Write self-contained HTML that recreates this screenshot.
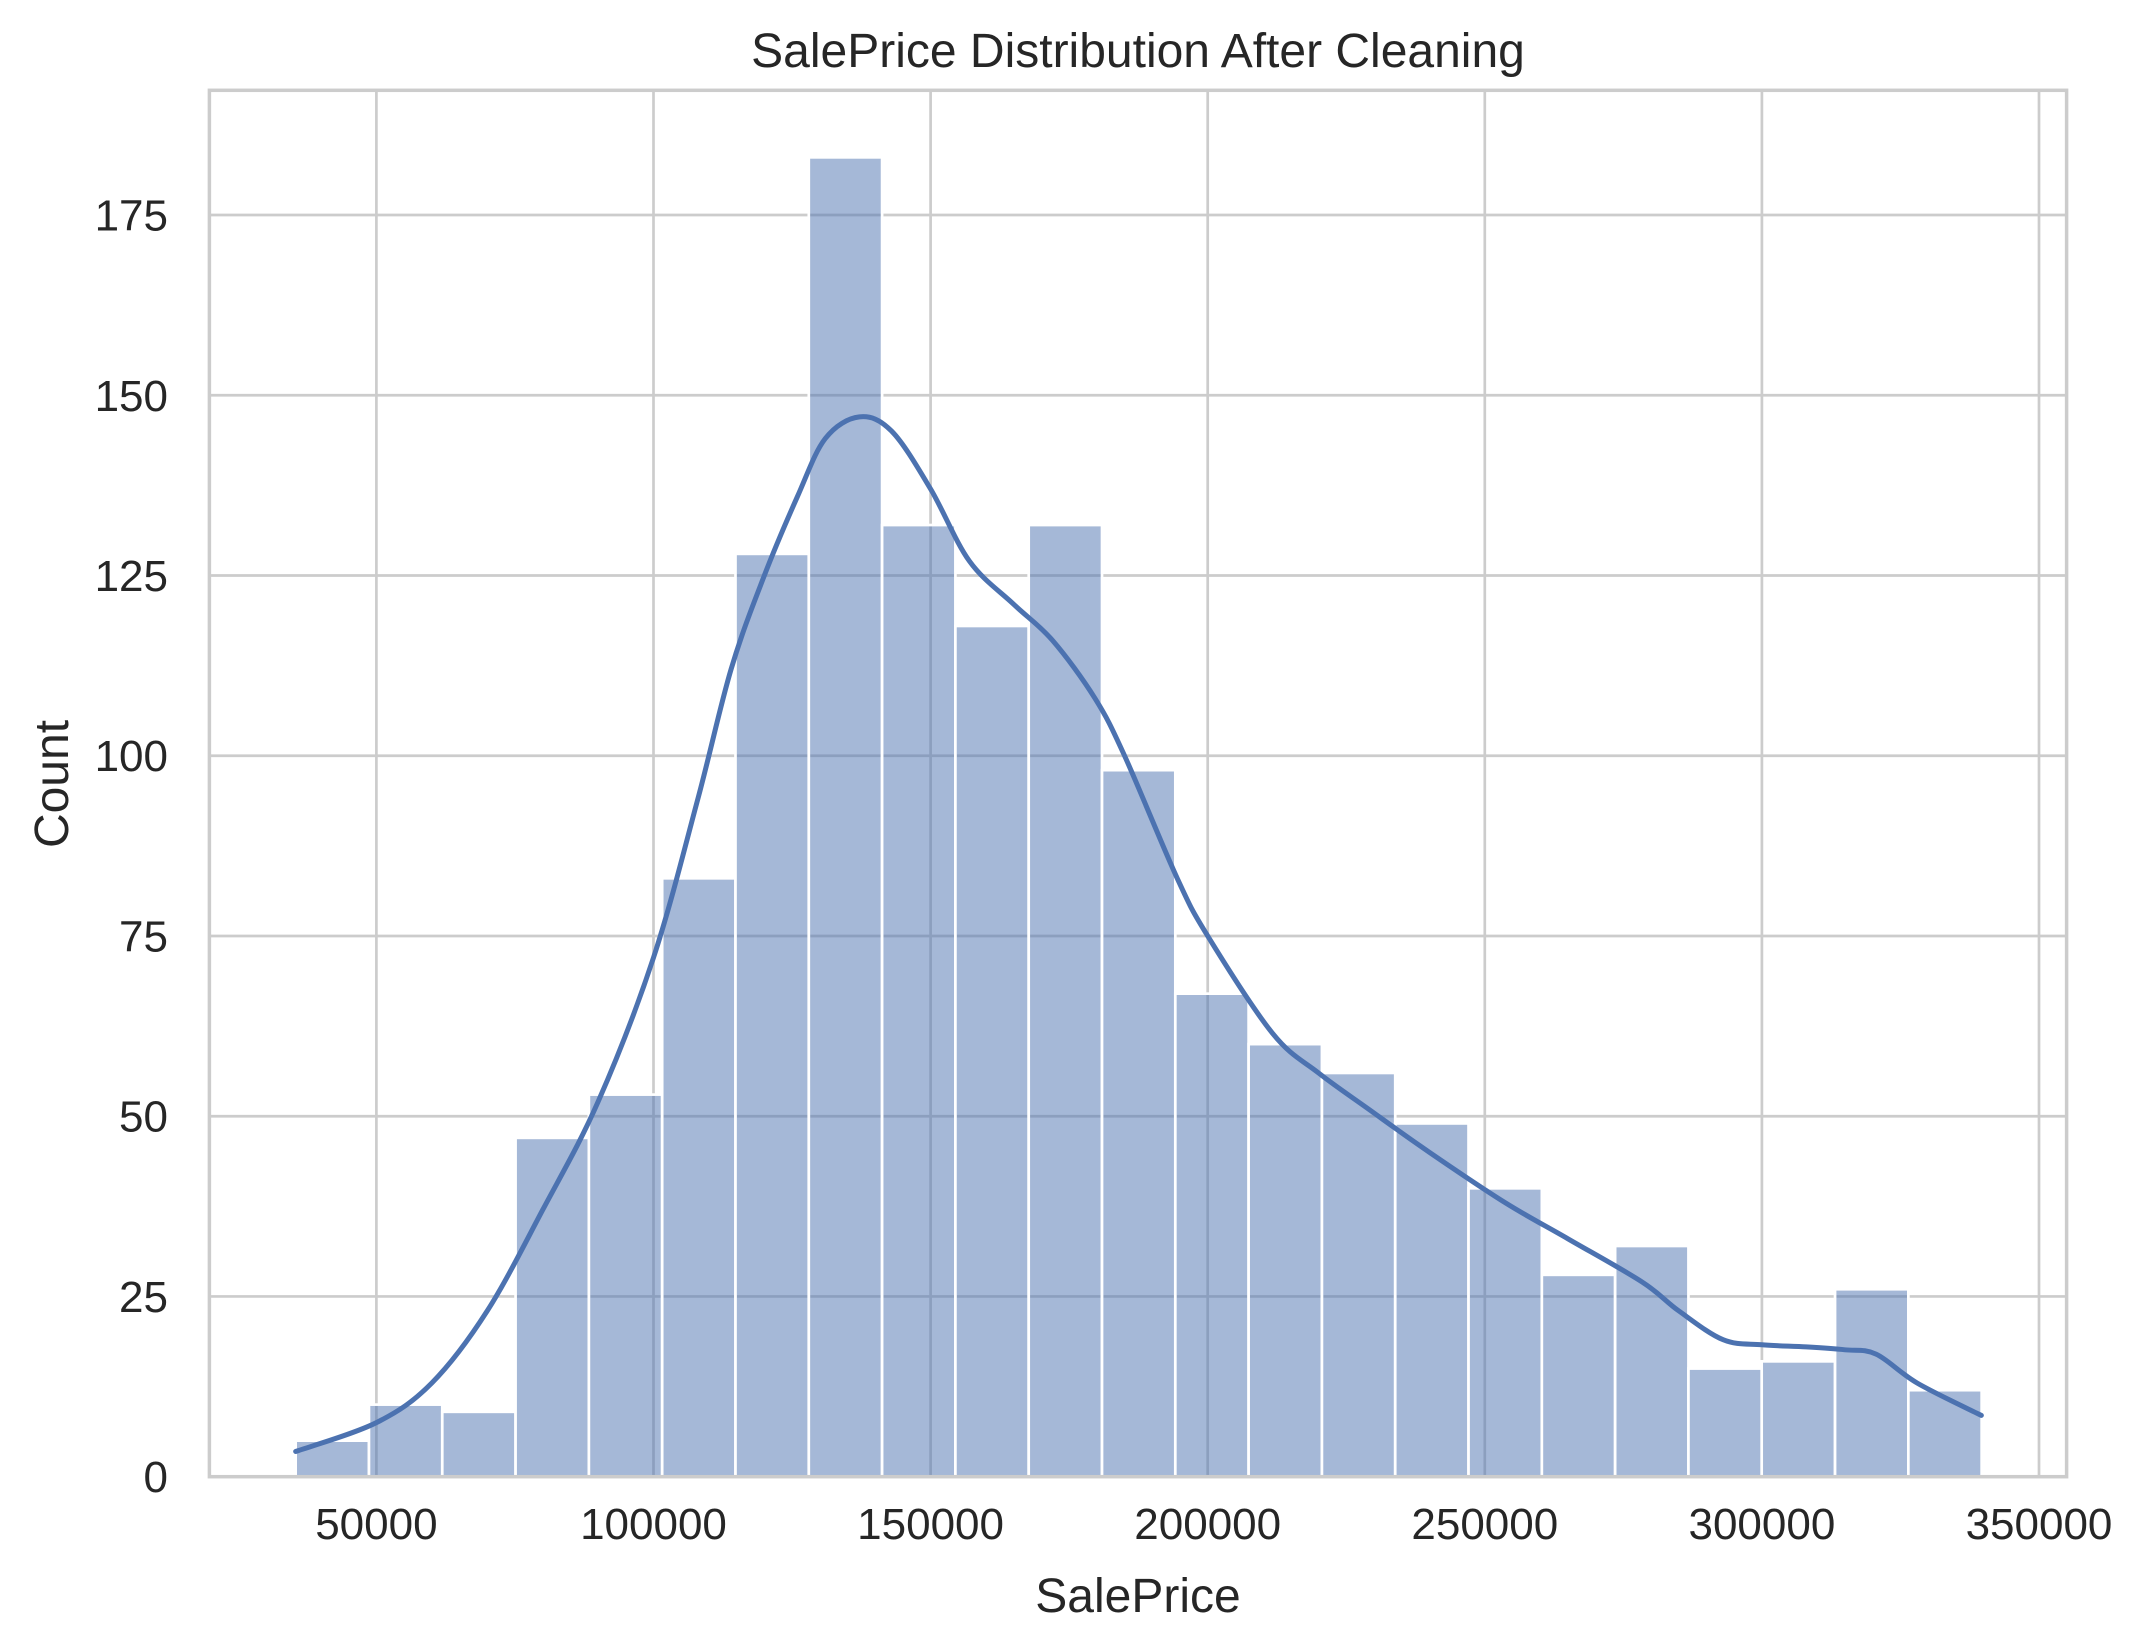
<!DOCTYPE html>
<html><head><meta charset="utf-8"><style>
html,body{margin:0;padding:0;background:#fff;}
svg{display:block;font-family:"Liberation Sans",Arial,sans-serif;}
</style></head><body>
<svg id="chart" width="2146" height="1652" viewBox="0 0 2146 1652">
<rect x="0" y="0" width="2146" height="1652" fill="#fff"/>
<g id="grid"></g><g id="bars"></g><g id="kde"></g><g id="spines"></g><g id="labels"></g>
</svg>
<script>
const binStart = 35432;
const binWidth = 13227;
const counts = [5,10,9,47,53,83,128,183,132,118,132,98,67,60,56,49,40,28,32,15,16,26,12];
const kdeX = [35432,50000,60000,70000,80000,90000,100000,108000,114000,120000,126000,131000,137160,143000,150000,157000,165000,172000,179630,185000,194500,200000,211700,220000,229000,240000,253700,265000,278400,285000,293000,300000,308000,315000,320600,328000,339600];
const kdeY = [3.5,7.5,13,23,37,52,72,94,112,125,136,144,147,145,137,127,121,116,108,100,83,75,61.5,56,51,45,38,33,27,23,19,18.3,18,17.6,17,13,8.5];
const xTicks = [50000,100000,150000,200000,250000,300000,350000];
const xTickLabels = ["50000","100000","150000","200000","250000","300000","350000"];
const yTicks = [0,25,50,75,100,125,150,175];
const yTickLabels = ["0","25","50","75","100","125","150","175"];

const L=209.4,R=2066.6,T=90.3,B=1476.7;
const xMin=19867,xMax=354980,yMin=0,yMax=192.3;
const sx=v=>L+(v-xMin)/(xMax-xMin)*(R-L);
const sy=v=>B-(v-yMin)/(yMax-yMin)*(B-T);
const NS='http://www.w3.org/2000/svg';
function mk(tag,attrs,parent){const e=document.createElementNS(NS,tag);for(const k in attrs)e.setAttribute(k,attrs[k]);parent.appendChild(e);return e;}
const grid=document.getElementById('grid'),bars=document.getElementById('bars'),kde=document.getElementById('kde'),sp=document.getElementById('spines'),lab=document.getElementById('labels');

xTicks.forEach((t,i)=>{
  const l=mk('line',{x1:sx(t),x2:sx(t),y1:T,y2:B,stroke:'#cccccc','stroke-width':2.7},grid);
  
  
  const tx=mk('text',{x:sx(t),y:1539,'text-anchor':'middle','font-size':44,fill:'#262626'},lab);
  tx.textContent=xTickLabels[i];
  
  
});
yTicks.forEach((t,i)=>{
  const l=mk('line',{x1:L,x2:R,y1:sy(t),y2:sy(t),stroke:'#cccccc','stroke-width':2.7},grid);
  
  
  const tx=mk('text',{x:168,y:sy(t)+15.5,'text-anchor':'end','font-size':44,fill:'#262626'},lab);
  tx.textContent=yTickLabels[i];
  
  
});
counts.forEach((c,i)=>{
  const x0=sx(binStart+i*binWidth),x1=sx(binStart+(i+1)*binWidth);
  const r=mk('rect',{x:x0,y:sy(c),width:x1-x0,height:sy(0)-sy(c),fill:'#4c72b0','fill-opacity':0.5,stroke:'#ffffff','stroke-width':2.7},bars);
  
  
});
const pts=kdeX.map((x,i)=>[sx(x),sy(kdeY[i])]);
let d='M'+pts[0][0]+','+pts[0][1];
for(let i=0;i<pts.length-1;i++){
  const p0=pts[Math.max(0,i-1)],p1=pts[i],p2=pts[i+1],p3=pts[Math.min(pts.length-1,i+2)];
  const c1=[p1[0]+(p2[0]-p0[0])/6,p1[1]+(p2[1]-p0[1])/6];
  const c2=[p2[0]-(p3[0]-p1[0])/6,p2[1]-(p3[1]-p1[1])/6];
  d+=' C'+c1[0]+','+c1[1]+' '+c2[0]+','+c2[1]+' '+p2[0]+','+p2[1];
}
const kp=mk('path',{d:d,fill:'none',stroke:'#4c72b0','stroke-width':5,'stroke-linecap':'round','stroke-linejoin':'round'},kde);


const fr=mk('rect',{x:L,y:T,width:R-L,height:B-T,fill:'none',stroke:'#cccccc','stroke-width':3.5},sp);


</script>
<script>
(function(){
const svg=document.getElementById('chart');const NS='http://www.w3.org/2000/svg';
function t(txt,attrs){const e=document.createElementNS(NS,'text');for(const k in attrs)e.setAttribute(k,attrs[k]);e.textContent=txt;svg.appendChild(e);return e;}
const a=t('SalePrice Distribution After Cleaning',{x:1138,y:67,'text-anchor':'middle','font-size':48,fill:'#262626'});


const b=t('SalePrice',{x:1138,y:1612,'text-anchor':'middle','font-size':48,fill:'#262626'});


const c=t('Count',{x:0,y:0,'text-anchor':'middle','font-size':48,fill:'#262626',transform:'translate(68,784) rotate(-90)'});


})();
</script>
</body></html>
